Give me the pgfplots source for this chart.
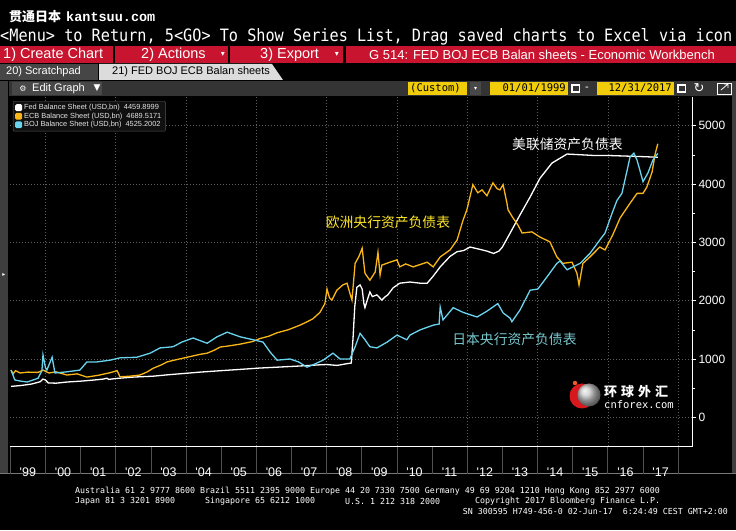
\documentclass[border=0pt]{standalone}
\usepackage{fontspec}
\setmainfont{Liberation Sans}
\newfontfamily\cjk{Noto Sans CJK SC}
\newfontfamily\dmono{DejaVu Sans Mono}
\newfontfamily\lmono{Liberation Mono}
\newfontfamily\dsym{DejaVu Sans}
\usepackage{pgfplots}
\pgfplotsset{compat=1.18}
\definecolor{bbred}{RGB}{200,20,46}
\definecolor{fedc}{RGB}{255,255,255}
\definecolor{ecbc}{RGB}{250,182,22}
\definecolor{bojc}{RGB}{106,212,238}
\definecolor{gridc}{RGB}{95,95,95}
\definecolor{sepc}{RGB}{80,80,80}
\definecolor{ybox}{RGB}{240,204,10}
\definecolor{ecbtxt}{RGB}{255,232,40}
\definecolor{bojtxt}{RGB}{120,200,205}
\definecolor{tab1c}{RGB}{70,70,70}
\definecolor{tab2c}{RGB}{220,220,220}
\definecolor{editc}{RGB}{52,52,52}
\definecolor{editb}{RGB}{72,72,72}
\definecolor{stripc}{RGB}{62,62,62}
\definecolor{framec}{RGB}{120,120,120}
\definecolor{logored}{RGB}{215,25,30}
\definecolor{logodot}{RGB}{240,90,40}
\definecolor{logogray}{RGB}{200,200,200}
\definecolor{legbg}{RGB}{16,16,16}
\definecolor{legbd}{RGB}{85,85,85}
\definecolor{legtx}{RGB}{228,228,228}
\newcommand{\yr}[1]{\textquotesingle#1}
\begin{document}
\begin{tikzpicture}
\useasboundingbox (0pt,0pt) rectangle (736pt,530pt);
\clip (0pt,0pt) rectangle (736pt,530pt);
\fill[black] (0pt,0pt) rectangle (736pt,530pt);
\begin{scope}[x=1pt,y=1pt]
% header lines
\node[anchor=west, text=white, inner sep=0] at (9,513) {\cjk\bfseries\fontsize{13}{13}\selectfont 贯通日本\hspace{5pt}\lmono\bfseries\fontsize{13.5}{13.5}\selectfont kantsuu.com};
\node[anchor=west, text=white, inner sep=0] at (0,493) {\dmono\fontsize{15.2}{16}\selectfont \scalebox{1}[1.12]{<Menu> to Return, 5<GO> To Show Series List, Drag saved charts to Excel via icon}};
% red bar
\fill[bbred] (0,467) rectangle (113,484);
\fill[bbred] (115,467) rectangle (228,484);
\fill[bbred] (230,467) rectangle (343,484);
\fill[bbred] (346,467) rectangle (736,484);
\node[anchor=west,text=white,inner sep=0] at (3,475.5) {\fontsize{14.5}{14.5}\selectfont 1) Create Chart};
\node[anchor=west,text=white,inner sep=0] at (141,475.5) {\fontsize{14.5}{14.5}\selectfont 2) Actions};
\node[text=white,inner sep=0] at (223,475.5) {\dsym\fontsize{8}{8}\selectfont ▾};
\node[anchor=west,text=white,inner sep=0] at (260,475.5) {\fontsize{14.5}{14.5}\selectfont 3) Export};
\node[text=white,inner sep=0] at (337,475.5) {\dsym\fontsize{8}{8}\selectfont ▾};
\node[anchor=west,text=white,inner sep=0] at (369,475.5) {\fontsize{13}{13}\selectfont G 514: FED BOJ ECB Balan sheets - Economic Workbench};
% tabs
\fill[tab1c] (0,450) rectangle (98,466);
\node[anchor=west,text=white,inner sep=0] at (6,458) {\fontsize{11}{11}\selectfont 20) Scratchpad};
\fill[tab2c] (99,450) -- (99,466) -- (272,466) -- (283,450) -- cycle;
\node[anchor=west,text=black,inner sep=0] at (112,458) {\fontsize{11}{11}\selectfont 21) FED BOJ ECB Balan sheets};
% edit graph bar
\fill[editc] (9,434) rectangle (736,449);
\fill[editb] (12,435) rectangle (102,448);
\node[text=white,inner sep=0] at (23,441.5) {\dsym\fontsize{8}{8}\selectfont ⚙};
\node[anchor=west,text=white,inner sep=0] at (32,441.5) {\fontsize{11}{11}\selectfont Edit Graph};
\node[text=white,inner sep=0] at (97,441.5) {\dsym\fontsize{9}{9}\selectfont ▼};
\fill[ybox] (408,435) rectangle (467,448);
\node[anchor=west,inner sep=0] at (410,441.5) {\dmono\fontsize{10.5}{10.5}\selectfont (Custom)};
\fill[editb] (470,435) rectangle (481,448);
\node[text=white,inner sep=0] at (475.5,441.5) {\dsym\fontsize{6}{6}\selectfont ▾};
\fill[ybox] (490,435) rectangle (568,448);
\node[anchor=east,inner sep=0] at (566,441.5) {\dmono\fontsize{10.5}{10.5}\selectfont 01/01/1999};
\fill[white] (571,437) rectangle (580,446);
\fill[editc] (572.5,438.5) rectangle (578.5,443.5);
\node[text=white,inner sep=0] at (587,441.5) {\fontsize{11}{11}\selectfont -};
\fill[ybox] (597,435) rectangle (674,448);
\node[anchor=east,inner sep=0] at (672,441.5) {\dmono\fontsize{10.5}{10.5}\selectfont 12/31/2017};
\fill[white] (677,437) rectangle (686,446);
\fill[editc] (678.5,438.5) rectangle (684.5,443.5);
\node[text=white,inner sep=0] at (699,441.5) {\dsym\fontsize{13}{13}\selectfont ↻};
\draw[white, line width=0.8pt] (717,436) rectangle (731,447);
\draw[white, line width=0.8pt] (721,440) -- (728,446) (724,446) -- (728,446) -- (728,442);
% frame strips
\fill[stripc] (0,56) rectangle (8,449);
\node[text=white,inner sep=0] at (4,255) {\dsym\fontsize{6}{6}\selectfont ▸};
\fill[stripc] (732,56) rectangle (736,449);
\draw[framec, line width=1pt] (0,56) -- (736,56);
\end{scope}
% chart
\begin{axis}[
  at={(10pt,84pt)}, anchor=south west,
  width=682pt, height=349pt, scale only axis,
  clip mode=individual,
  xmin=1998.9915, xmax=2018.394, ymin=-492, ymax=5493,
  axis line style={draw=none},
  xtick={1999.5,2000.5,2001.5,2002.5,2003.5,2004.5,2005.5,2006.5,2007.5,2008.5,2009.5,2010.5,2011.5,2012.5,2013.5,2014.5,2015.5,2016.5,2017.5},
  xticklabels={\yr{99},\yr{00},\yr{01},\yr{02},\yr{03},\yr{04},\yr{05},\yr{06},\yr{07},\yr{08},\yr{09},\yr{10},\yr{11},\yr{12},\yr{13},\yr{14},\yr{15},\yr{16},\yr{17}},
  xtick style={draw=none},
  minor xtick={2000,2002,2004,2006,2008,2010,2012,2014,2016,2018},
  xminorgrids,
  minor x grid style={draw=gridc, dash pattern=on 1pt off 2pt, line width=0.6pt},
  ytick={0,1000,2000,3000,4000,5000},
  minor ytick={500,1500,2500,3500,4500},
  ymajorgrids,
  major y grid style={draw=gridc, dash pattern=on 1pt off 2pt, line width=0.6pt},
  ytick pos=right, yticklabel pos=right,
  tick align=outside, major tick length=4pt, minor tick length=3pt,
  ytick style={draw=white, line width=0.6pt},
  /pgf/number format/assume math mode=true,
  /pgf/number format/1000 sep={},
  yticklabel style={font=\fontsize{12}{12}\selectfont, text=white, xshift=-1pt},
  xticklabel style={font=\fontsize{12.5}{12.5}\selectfont, text=white, anchor=center, yshift=-22pt},
  legend cell align=left,
  legend image code/.code={\fill[#1] (0pt,-2.8pt) rectangle (5.6pt,2.8pt);},
  legend style={at={(0.0044,0.9885)}, anchor=north west, fill=legbg, draw=legbd, text=legtx,
     font=\fontsize{7.4}{7.7}\selectfont, inner xsep=2pt, inner ysep=1pt, row sep=-2.3pt, rounded corners=1pt},
]
\addplot[fedc, line width=1.3pt] coordinates {
(1999.02,530) (1999.3,545) (1999.6,570) (1999.85,610) (1999.93,655) (2000.00,640) (2000.08,590)
(2000.3,585) (2000.61,605) (2001.0,620) (2001.3,635) (2001.64,655) (2001.75,670) (2001.8,650)
(2002.0,665) (2002.5,690) (2003.06,705) (2003.5,730) (2004.0,755) (2004.4,775) (2005.0,800)
(2005.5,820) (2006.1,845) (2006.6,860) (2007.24,880) (2007.8,900) (2008.0,905) (2008.3,890)
(2008.58,920) (2008.70,930) (2008.75,1350) (2008.80,1900) (2008.86,2230) (2008.95,2270)
(2009.01,2200) (2009.06,1950) (2009.09,1880) (2009.15,2000) (2009.23,2150) (2009.30,2070)
(2009.43,2100) (2009.57,2010) (2009.65,2060) (2009.74,2100) (2009.89,2220) (2010.08,2300)
(2010.37,2320) (2010.66,2300) (2010.86,2300) (2011.03,2420) (2011.23,2580) (2011.51,2760)
(2011.71,2840) (2011.90,2860) (2012.08,2920) (2012.36,2880) (2012.56,2850) (2012.75,2810)
(2012.9,2850) (2013.0,2920) (2013.22,3160) (2013.50,3470) (2013.79,3780) (2014.07,4100)
(2014.41,4360) (2014.84,4515) (2015.3,4500) (2015.6,4490) (2016.0,4490) (2016.5,4480)
(2017.0,4470) (2017.42,4460)
};
\addlegendentry{Fed Balance Sheet (USD,bn)\hspace{4pt}4459.8999}
\addplot[ecbc, line width=1.3pt] coordinates {
(1999.02,810) (1999.08,745) (1999.15,800) (1999.28,760) (1999.5,775) (1999.79,770) (1999.93,810)
(2000.1,760) (2000.3,780) (2000.61,725) (2000.9,745) (2001.18,690) (2001.5,720) (2001.84,765)
(2002.04,800) (2002.12,695) (2002.4,705) (2002.69,725) (2002.9,780) (2003.06,840) (2003.3,900)
(2003.46,950) (2003.7,985) (2004.03,1030) (2004.4,1080) (2004.6,1100) (2004.8,1150) (2004.97,1205)
(2005.17,1220) (2005.54,1255) (2005.9,1300) (2006.1,1350) (2006.35,1390) (2006.59,1450)
(2006.9,1500) (2007.24,1580) (2007.45,1640) (2007.61,1690) (2007.81,1800) (2007.95,1950)
(2008.01,2200) (2008.08,2050) (2008.15,2010) (2008.29,2180) (2008.46,2270) (2008.58,2300)
(2008.66,2130) (2008.72,2010) (2008.81,2640) (2008.92,2760) (2009.01,2900) (2009.09,2470)
(2009.23,2350) (2009.38,2490) (2009.46,2830) (2009.52,2440) (2009.57,2610) (2009.8,2660)
(2010.0,2700) (2010.08,2580) (2010.25,2630) (2010.46,2580) (2010.66,2620) (2010.86,2660)
(2011.03,2580) (2011.23,2750) (2011.51,2870) (2011.71,3040) (2011.88,3380) (2011.99,3560)
(2012.16,3990) (2012.3,3850) (2012.42,3900) (2012.56,3800) (2012.73,4020) (2012.85,3920)
(2012.93,3900) (2013.02,3990) (2013.13,3670) (2013.16,3560) (2013.30,3420) (2013.44,3300)
(2013.56,3160) (2013.84,3180) (2014.07,3090) (2014.35,3010) (2014.55,2750) (2014.72,2640)
(2014.98,2660) (2015.12,2470) (2015.18,2270) (2015.29,2640) (2015.49,2750) (2015.77,2920)
(2015.92,2870) (2016.14,3130) (2016.35,3420) (2016.63,3670) (2016.83,3840) (2017.0,3840)
(2017.11,3950) (2017.26,4210) (2017.34,4500) (2017.42,4690)
};
\addlegendentry{ECB Balance Sheet (USD,bn)\hspace{4pt}4689.5171}
\addplot[bojc, line width=1.3pt] coordinates {
(1999.02,810) (1999.13,640) (1999.3,620) (1999.48,605) (1999.79,670) (1999.9,800) (1999.93,1070)
(2000.0,850) (2000.04,810) (2000.19,1030) (2000.27,760) (2000.61,780) (2000.98,810) (2001.18,950)
(2001.47,950) (2001.84,980) (2002.12,1020) (2002.6,1030) (2002.98,1100) (2003.26,1190)
(2003.63,1210) (2003.88,1290) (2004.2,1360) (2004.6,1270) (2004.88,1380) (2005.17,1460)
(2005.54,1380) (2005.91,1330) (2006.19,1290) (2006.39,1120) (2006.59,980) (2006.96,1000)
(2007.2,950) (2007.44,860) (2007.61,900) (2007.9,980) (2008.18,1100) (2008.38,1000) (2008.66,1000)
(2008.81,1210) (2008.95,1440) (2009.09,1330) (2009.23,1210) (2009.43,1190) (2009.72,1290)
(2010.0,1410) (2010.28,1330) (2010.37,1410) (2010.66,1500) (2011.03,1580) (2011.2,1600)
(2011.23,1890) (2011.31,1670) (2011.6,1880) (2011.88,1800) (2012.28,1720) (2012.56,1820)
(2012.87,1950) (2013.02,1790) (2013.22,1700) (2013.27,1640) (2013.50,1840) (2013.79,2180)
(2014.01,2200) (2014.27,2410) (2014.55,2640) (2014.64,2680) (2014.84,2530) (2015.21,2640)
(2015.49,2810) (2015.77,3040) (2015.92,3160) (2016.12,3500) (2016.26,3720) (2016.40,3840)
(2016.55,4240) (2016.63,4460) (2016.74,4530) (2016.83,4410) (2016.91,4240) (2017.0,4040)
(2017.14,4190) (2017.28,4410) (2017.42,4525)
};
\addlegendentry{BOJ Balance Sheet (USD,bn)\hspace{4pt}4525.2002}
\pgfplotsinvokeforeach{1999,2000,2001,2002,2003,2004,2005,2006,2007,2008,2009,2010,2011,2012,2013,2014,2015,2016,2017,2018}{
  \draw[sepc, line width=0.8pt] (axis cs:#1,-492) -- ++(0pt,-28pt);
}
\draw[white, line width=0.8pt] (rel axis cs:0,0) -- (rel axis cs:1,0) -- (rel axis cs:1,1);
\node[text=white, inner sep=0, font=\cjk\fontsize{13.8}{14}\selectfont] at (axis cs:2014.85,4687) {美联储资产负债表};
\node[text=ecbtxt, inner sep=0, font=\cjk\fontsize{13.8}{14}\selectfont] at (axis cs:2009.745,3341) {欧洲央行资产负债表};
\node[text=bojtxt, inner sep=0, font=\cjk\fontsize{13.8}{14}\selectfont] at (axis cs:2013.344,1343) {日本央行资产负债表};
\end{axis}
\begin{scope}[x=1pt,y=1pt]
% watermark logo
\fill[logored] (582,134) circle (12.5);
\shade[ball color=logogray] (589,135) circle (11.5);
\fill[logodot] (575,147) circle (2.2);
\node[anchor=west, text=white, inner sep=0] at (604,138) {\cjk\bfseries\fontsize{13}{13}\selectfont 环\hspace{4pt}球\hspace{4pt}外\hspace{4pt}汇};
\node[anchor=west, text=white, inner sep=0] at (604,125) {\dmono\fontsize{10.5}{10.5}\selectfont cnforex.com};
% footer
\node[anchor=west,text=white,inner sep=0] at (75,39) {\dmono\fontsize{8.3}{8.3}\selectfont Australia 61 2 9777 8600 Brazil 5511 2395 9000 Europe 44 20 7330 7500 Germany 49 69 9204 1210 Hong Kong 852 2977 6000};
\node[anchor=west,text=white,inner sep=0] at (75,29) {\dmono\fontsize{8.3}{8.3}\selectfont Japan 81 3 3201 8900};
\node[anchor=west,text=white,inner sep=0] at (205,29) {\dmono\fontsize{8.3}{8.3}\selectfont Singapore 65 6212 1000};
\node[anchor=west,text=white,inner sep=0] at (345,29) {\dmono\fontsize{8.3}{8.3}\selectfont U.S. 1 212 318 2000};
\node[anchor=west,text=white,inner sep=0] at (475,29) {\dmono\fontsize{8.3}{8.3}\selectfont Copyright 2017 Bloomberg Finance L.P.};
\node[anchor=east,text=white,inner sep=0] at (728,19) {\dmono\fontsize{8.3}{8.3}\selectfont SN 300595 H749-456-0 02-Jun-17\ \ 6:24:49 CEST GMT+2:00};
\end{scope}
\end{tikzpicture}
\end{document}
